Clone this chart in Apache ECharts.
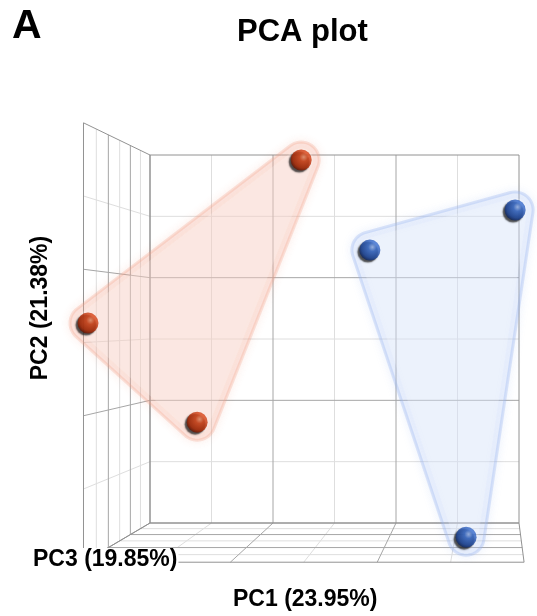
<!DOCTYPE html>
<html>
<head>
<meta charset="utf-8">
<script src="https://cdn.jsdelivr.net/npm/echarts@6/dist/echarts.min.js"></script>
<style>
  html, body { margin: 0; padding: 0; background: #ffffff; }
  #chart { width: 537px; height: 616px; }
</style>
</head>
<body>
<div id="chart"></div>
<script>
// Sample scores on the first three principal components
const sampleNames = ['R1', 'R2', 'R3', 'B1', 'B2', 'B3'];
const sampleGroup = [0, 0, 0, 1, 1, 1];
const pc1Scores = [-7.8, -59.2, -35.3, 14.1, 58.5, 43.5];
const pc2Scores = [55.8, 5.3, -23.9, 27.5, 40.9, -58.9];
const pc3Scores = [-24.0, 57.6, 12.0, -12.0, -36.0, 0.0];

// Axis titles with explained variance, and the grid ticks shared by all three axes
const axisTitles = ['PC1 (23.95%)', 'PC2 (21.38%)', 'PC3 (19.85%)'];
const gridTicks = [-60, -40, -20, 0, 20, 40, 60];

// Group colours: sphere shades and hull tints
const groupSphere = [
  ['#ff9c74', '#e04a1c', '#b32c06', '#4d0c00'],
  ['#a8c6ff', '#3e73d6', '#1f4aa2', '#0a1a48']
];
const groupHull = [
  { fill: 'rgba(247,180,158,0.24)', stroke: 'rgba(240,155,128,0.26)', glow: 'rgba(240,150,122,0.55)' },
  { fill: 'rgba(198,215,250,0.22)', stroke: 'rgba(150,178,238,0.32)', glow: 'rgba(150,178,238,0.55)' }
];

// Simple perspective camera: the back wall lies in the PC1/PC2 axes plane,
// the PC3 direction comes towards the viewer and is scaled about a vanishing point.
const lo = gridTicks[0], hi = gridTicks[gridTicks.length - 1];
const camera = { vx: 51.5, vy: 5.9, frontScale: 1.194 };
function project(x, y, z) {
  const t = (z - lo) / (hi - lo);
  const s = 1 / (1 - t * (1 - 1 / camera.frontScale));
  return [camera.vx + s * (x - camera.vx), camera.vy + s * (y - camera.vy)];
}

// Wall lines of the box: back wall, left wall and floor
function buildWallLines() {
  const lines = [];
  gridTicks.forEach(function (v, i) {
    const w = (i === 0 || i === gridTicks.length - 1) ? 2 : (i % 2 === 0 ? 1 : 0);
    lines.push([v, lo, lo, v, hi, lo, w]);   // back wall verticals
    lines.push([lo, v, lo, hi, v, lo, w]);   // back wall horizontals
    lines.push([lo, lo, v, lo, hi, v, w]);   // left wall verticals
    lines.push([lo, v, lo, lo, v, hi, w]);   // left wall horizontals
    lines.push([v, lo, lo, v, lo, hi, w]);   // floor, receding lines
    lines.push([lo, lo, v, hi, lo, v, w]);   // floor, cross lines
  });
  lines.sort(function (a, b) { return a[6] - b[6]; });
  return lines;
}
const wallLines = buildWallLines();
const lineColors = ['#dedede', '#a6a6a6', '#929292'];

// Convex hull (monotone chain) of pixel points
function convexHull(pts) {
  const p = pts.slice().sort(function (a, b) { return a[0] - b[0] || a[1] - b[1]; });
  const cross = function (o, a, b) { return (a[0] - o[0]) * (b[1] - o[1]) - (a[1] - o[1]) * (b[0] - o[0]); };
  const lower = [], upper = [];
  p.forEach(function (q) {
    while (lower.length >= 2 && cross(lower[lower.length - 2], lower[lower.length - 1], q) <= 0) lower.pop();
    lower.push(q);
  });
  for (let i = p.length - 1; i >= 0; i--) {
    const q = p[i];
    while (upper.length >= 2 && cross(upper[upper.length - 2], upper[upper.length - 1], q) <= 0) upper.pop();
    upper.push(q);
  }
  upper.pop(); lower.pop();
  return lower.concat(upper);
}
// Rounded hull: the points' hull grown by a disc of radius r
function roundedHull(pts, r) {
  const ring = [];
  pts.forEach(function (q) {
    for (let k = 0; k < 48; k++) {
      const a = k / 48 * Math.PI * 2;
      ring.push([q[0] + r * Math.cos(a), q[1] + r * Math.sin(a)]);
    }
  });
  return convexHull(ring);
}

function groupPoints(g) {
  const out = [];
  for (let i = 0; i < sampleNames.length; i++) {
    if (sampleGroup[i] === g) {
      out.push(project(pc1Scores[i], pc2Scores[i], pc3Scores[i]).concat([sampleNames[i]]));
    }
  }
  return out;
}

function sphereStyle(g) {
  const c = groupSphere[g];
  return {
    color: {
      type: 'radial', x: 0.62, y: 0.36, r: 0.72,
      colorStops: [
        { offset: 0, color: c[0] },
        { offset: 0.28, color: c[1] },
        { offset: 0.72, color: c[2] },
        { offset: 1, color: c[3] }
      ]
    },
    shadowColor: 'rgba(0,0,0,0.85)',
    shadowBlur: 1.5,
    shadowOffsetX: -2,
    shadowOffsetY: 2
  };
}

const labelFont = 'bold 23px "Liberation Sans", Arial, sans-serif';

const chart = echarts.init(document.getElementById('chart'), null, { renderer: 'canvas' });

const option = {
  backgroundColor: '#ffffff',
  animation: false,
  grid: { left: 150, top: 155, width: 369, height: 368 },
  xAxis: { type: 'value', min: lo, max: hi, show: false },
  yAxis: { type: 'value', min: lo, max: hi, show: false },
  graphic: [
    { type: 'text', left: 12, top: 6, z: 10, style: { text: 'A', font: 'bold 41px "Liberation Sans", Arial, sans-serif', fill: '#000' } },
    { type: 'text', left: 237, top: 17, z: 10, style: { text: 'PCA plot', font: 'bold 31px "Liberation Sans", Arial, sans-serif', fill: '#000' } },
    { type: 'text', left: 233, top: 588, z: 10, style: { text: axisTitles[0], font: labelFont, fill: '#000' } },
    { type: 'text', left: 33, top: 548, z: 10,
      style: { text: axisTitles[2], font: labelFont, fill: '#000', backgroundColor: '#fff', padding: [0, 1, 0, 0] } },
    { type: 'text', x: 41, y: 308, rotation: Math.PI / 2, z: 10,
      style: { text: axisTitles[1], font: labelFont, fill: '#000', align: 'center', verticalAlign: 'middle' } }
  ],
  series: [
    {
      type: 'custom',
      name: 'box',
      silent: true,
      clip: false,
      z: 1,
      data: wallLines,
      renderItem: function (params, api) {
        const a = project(api.value(0), api.value(1), api.value(2));
        const b = project(api.value(3), api.value(4), api.value(5));
        const p1 = api.coord(a), p2 = api.coord(b);
        return {
          type: 'line',
          shape: { x1: p1[0], y1: p1[1], x2: p2[0], y2: p2[1] },
          style: { stroke: lineColors[api.value(6)], lineWidth: 1 }
        };
      }
    },
    {
      type: 'custom',
      name: 'hulls',
      silent: true,
      clip: false,
      z: 2,
      data: [[0], [1]],
      renderItem: function (params, api) {
        const g = api.value(0);
        const px = groupPoints(g).map(function (p) { return api.coord([p[0], p[1]]); });
        const h = groupHull[g];
        return {
          type: 'group',
          children: [
            {
              type: 'polygon',
              shape: { points: roundedHull(px, 18) },
              style: { fill: h.fill, stroke: h.stroke, lineWidth: 3, shadowBlur: 9, shadowColor: h.glow }
            },
            {
              type: 'polygon',
              shape: { points: roundedHull(px, 12) },
              style: { fill: 'rgba(255,255,255,0.2)' }
            }
          ]
        };
      }
    },
    {
      type: 'scatter',
      name: 'Group 1',
      clip: false,
      z: 3,
      symbolSize: 21,
      data: groupPoints(0),
      itemStyle: sphereStyle(0)
    },
    {
      type: 'scatter',
      name: 'Group 2',
      clip: false,
      z: 3,
      symbolSize: 21,
      data: groupPoints(1),
      itemStyle: sphereStyle(1)
    }
  ]
};

chart.setOption(option);
</script>
</body>
</html>
